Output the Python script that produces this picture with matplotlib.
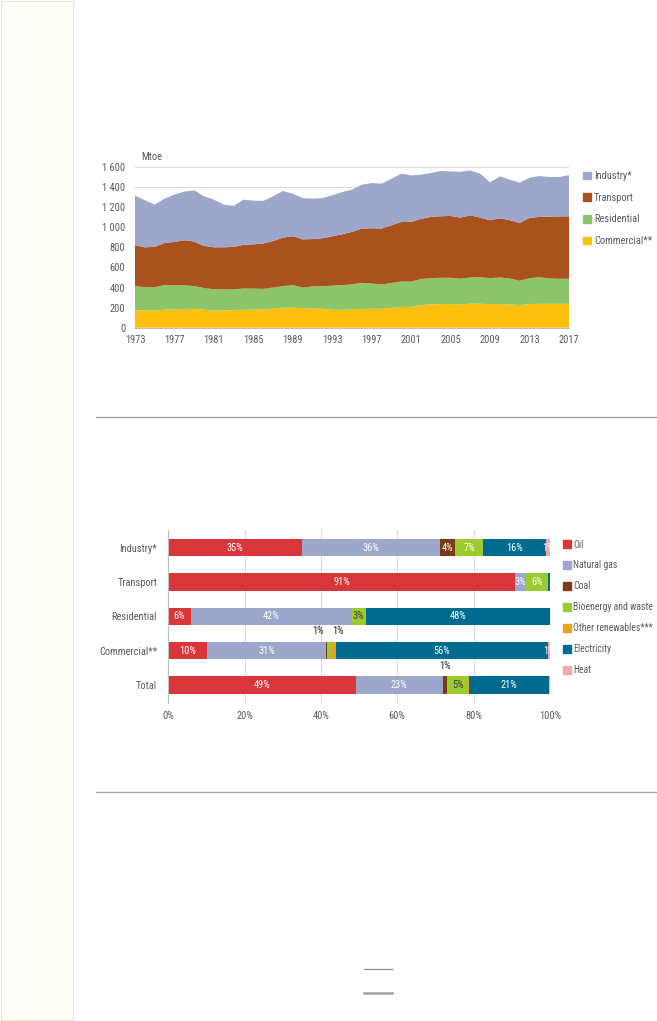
import matplotlib
matplotlib.use("Agg")
import matplotlib.pyplot as plt
from matplotlib.patches import Patch, Rectangle
from matplotlib.lines import Line2D

plt.rcParams['font.family'] = ['Liberation Sans Narrow', 'Roboto Condensed', 'DejaVu Sans']
plt.rcParams['font.size'] = 7.5

# ---- area chart data (Mtoe) ----
years = list(range(1973, 2018))
commercial = [175, 172, 170, 180, 182, 185, 188, 180, 170, 172, 175, 178, 180, 182, 190,
              200, 200, 195, 192, 190, 178, 178, 182, 188, 188, 190, 198, 205, 208, 225,
              232, 235, 235, 232, 240, 238, 235, 235, 230, 225, 235, 238, 238, 238, 238]
residential = [239, 232, 234, 244, 238, 237, 226, 215, 213, 209, 206, 214, 210, 205, 210,
               214, 224, 205, 218, 224, 240, 246, 250, 259, 252, 240, 247, 255, 250, 260,
               260, 262, 262, 255, 260, 265, 258, 265, 260, 242, 258, 265, 252, 249, 249]
transport = [407, 396, 401, 420, 434, 449, 444, 420, 417, 419, 424, 433, 440, 451, 464,
             483, 487, 480, 472, 477, 492, 506, 522, 540, 550, 557, 575, 593, 595, 598,
             611, 613, 616, 609, 619, 593, 577, 590, 580, 576, 600, 600, 616, 621, 622]
industry = [494, 470, 420, 441, 471, 484, 510, 493, 475, 425, 407, 450, 435, 424, 444,
            464, 423, 410, 403, 400, 408, 421, 420, 437, 450, 447, 463, 480, 464, 440,
            437, 450, 443, 457, 447, 437, 377, 417, 404, 401, 400, 407, 394, 392, 411]
area_names = ['Industry*', 'Transport', 'Residential', 'Commercial**']
area_colors = ['#9da6cb', '#aa521d', '#8dc56b', '#fdc00f']
ytick_vals = [0, 200, 400, 600, 800, 1000, 1200, 1400, 1600]
ytick_lbls = ['0', '200', '400', '600', '800', '1 000', '1 200', '1 400', '1 600']
xtick_years = list(range(1973, 2018, 4))

# ---- bar chart data (% shares) ----
sectors = ['Industry*', 'Transport', 'Residential', 'Commercial**', 'Total']
fuels = ['Oil', 'Natural gas', 'Coal', 'Bioenergy and waste', 'Other renewables***',
         'Electricity', 'Heat']
fuel_colors = ['#d8363a', '#9da6cb', '#7b3b14', '#9bcb2f', '#e9a21f', '#006b8f', '#f2a9aa']
shares = [
    [35.0, 36.2, 4.0, 7.4, 0.0, 16.4, 1.0],
    [90.9, 2.8, 0.0, 5.8, 0.0, 0.5, 0.0],
    [5.9, 42.2, 0.0, 3.6, 0.0, 48.3, 0.0],
    [10.2, 31.1, 0.2, 1.3, 1.1, 55.5, 0.6],
    [49.2, 22.7, 1.2, 5.5, 0.2, 21.0, 0.2],
]
inside_lbls = [
    ['35%', '36%', '4%', '7%', '', '16%', '1%'],
    ['91%', '3%', '', '6%', '', '', ''],
    ['6%', '42%', '', '3%', '', '48%', ''],
    ['10%', '31%', '', '', '', '56%', '1%'],
    ['49%', '23%', '', '5%', '', '21%', ''],
]
outside_lbls = [
    ['', '', '', '', '', '', ''],
    ['', '', '', '', '', '', ''],
    ['', '', '', '', '', '', ''],
    ['', '', '', '1%', '1%', '', ''],
    ['', '', '1%', '', '', '', ''],
]

W, H = 657, 1021
fig = plt.figure(figsize=(W / 100, H / 100), dpi=100)
grey = '#595959'

# left side strip and separators
fig.patches.append(Rectangle((1 / W, 1 / H), 72 / W, 1 - 2 / H, transform=fig.transFigure,
                             facecolor='#fdfef7', edgecolor='#e4e9d2', lw=0.8))
for yy in [417, 792]:
    fig.add_artist(Line2D([96 / W, 1], [1 - yy / H] * 2, color='#a6a6a6', lw=1.0))
fig.add_artist(Line2D([364 / W, 392 / W], [1 - 969 / H] * 2, color='#8c8c8c', lw=0.9))
fig.add_artist(Line2D([364 / W, 392 / W], [1 - 993 / H] * 2, color='#a0a0a0', lw=1.8))

# ---- area chart ----
ax1 = fig.add_axes([135 / W, 1 - 327.7 / H, 434 / W, 160.7 / H])
ax1.stackplot(years, commercial, residential, transport, industry,
              colors=area_colors[::-1], linewidth=0)
ax1.set_xlim(1973, 2017)
ax1.set_ylim(0, 1600)
ax1.set_yticks(ytick_vals)
ax1.set_yticklabels(ytick_lbls)
ax1.set_xticks(xtick_years)
ax1.tick_params(length=0, colors=grey, labelsize=7.5, pad=7)
ax1.tick_params(axis='x', pad=5)
ax1.grid(axis='y', color='#d9d9d9', lw=0.8)
ax1.set_axisbelow(True)
for s in ['top', 'right', 'left']:
    ax1.spines[s].set_visible(False)
ax1.spines['bottom'].set_color('#bfbfbf')
ax1.text(0.014, 1.03, 'Mtoe', transform=ax1.transAxes, color=grey, fontsize=7.5,
         va='bottom', ha='left')
handles1 = [Patch(color=c) for c in area_colors]
ax1.legend(handles1, area_names, loc='upper left', bbox_to_anchor=(583 / W, 1 - 171 / H),
           bbox_transform=fig.transFigure, frameon=False, borderpad=0, borderaxespad=0,
           handlelength=0.75, handleheight=0.75, handletextpad=0.3, labelspacing=1.12,
           labelcolor=grey, fontsize=7.5)

# ---- stacked bar chart ----
nudge = {(3, 3): -2.9, (3, 4): 1.2}   # spread the two small labels above Commercial
ax2 = fig.add_axes([168.3 / W, 1 - 703 / H, 381.5 / W, 173 / H])
for i, row in enumerate(shares):
    left = 0.0
    for j, v in enumerate(row):
        if v > 0:
            ax2.barh(i, v, left=left, height=0.51, color=fuel_colors[j], lw=0)
        cx = left + v / 2
        if inside_lbls[i][j]:
            tc = '#404040' if j == 3 and i in (2, 4) else 'white'
            ax2.text(cx, i, inside_lbls[i][j], ha='center', va='center',
                     color=tc, fontsize=7.5)
        if outside_lbls[i][j]:
            ax2.text(cx + nudge.get((i, j), 0), i - 0.42, outside_lbls[i][j],
                     ha='center', va='bottom', color='#262626', fontsize=7.5)
        left += v
ax2.set_xlim(0, 100)
ax2.set_ylim(4.52, -0.51)
ax2.set_yticks(range(len(sectors)))
ax2.set_yticklabels(sectors)
ax2.set_xticks([0, 20, 40, 60, 80, 100])
ax2.set_xticklabels(['0%', '20%', '40%', '60%', '80%', '100%'])
ax2.tick_params(length=0, colors=grey, labelsize=7.5, pad=8)
ax2.tick_params(axis='x', pad=6)
ax2.grid(axis='x', color='#d9d9d9', lw=0.8)
ax2.set_axisbelow(True)
for s in ['top', 'right', 'bottom']:
    ax2.spines[s].set_visible(False)
ax2.spines['left'].set_color('#bfbfbf')
handles2 = [Patch(color=c) for c in fuel_colors]
ax2.legend(handles2, fuels, loc='upper left', bbox_to_anchor=(563 / W, 1 - 539.5 / H),
           bbox_transform=fig.transFigure, frameon=False, borderpad=0, borderaxespad=0,
           handlelength=0.8, handleheight=0.8, handletextpad=0.25, labelspacing=1.13,
           labelcolor=grey, fontsize=7.0)

fig.savefig('out.png', dpi=100)
